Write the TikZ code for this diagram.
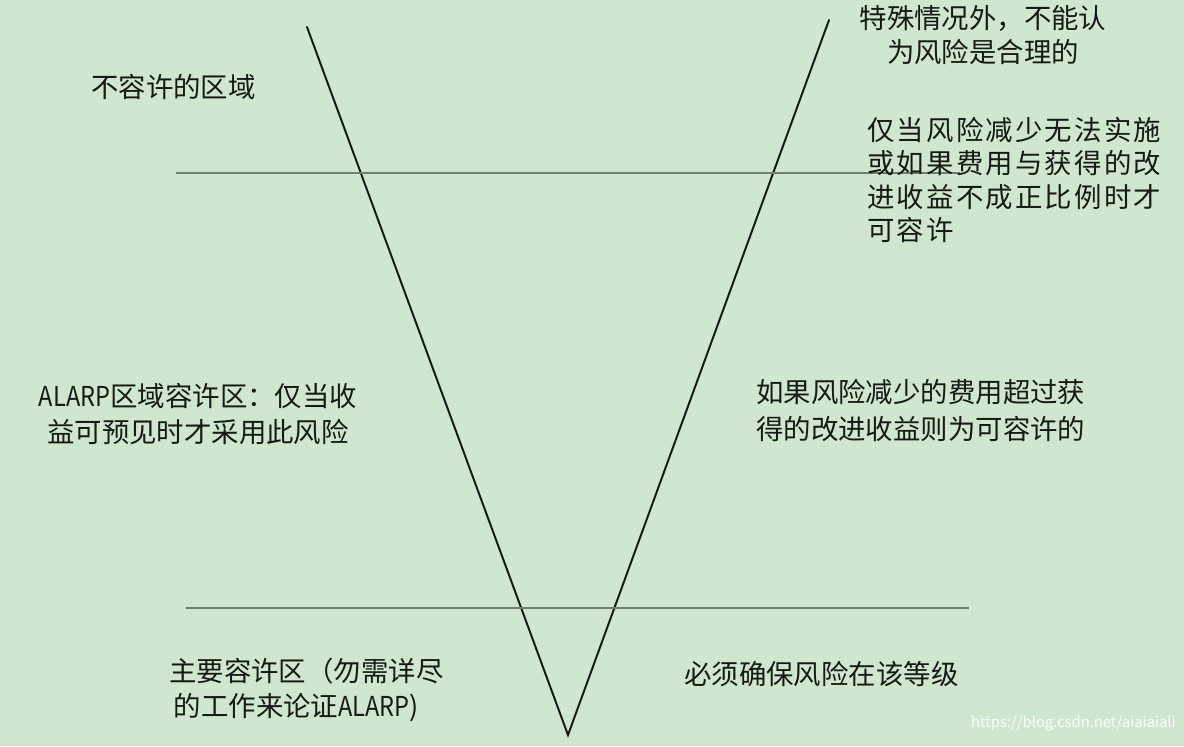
\documentclass[tikz,border=0pt]{standalone}
\usepackage{fontspec}
\setmainfont{Noto Sans CJK SC}
\newfontfamily\cjkwide[LetterSpace=8]{Noto Sans CJK SC}
\newfontfamily\latnarrow[FakeStretch=0.86]{Noto Sans CJK SC}
\definecolor{bggreen}{RGB}{207,231,206}
\definecolor{rulegray}{RGB}{112,128,112}
\definecolor{inkblack}{RGB}{22,26,22}
\usetikzlibrary{positioning}

\begin{document}
\begin{tikzpicture}[x=0.025cm,y=-0.025cm,
      lbl/.style={inner sep=0pt,font=\fontsize{19.5}{24}\selectfont,text=inkblack,
                  align=left},
      vline/.style={draw=inkblack,line width=1.4pt,line cap=round},
      zone/.style={draw=rulegray,line width=0.8pt}]
  \fill[bggreen] (0,0) rectangle (1184,746);
  \useasboundingbox (0,0) rectangle (1184,746);
  % the V
  \coordinate (vl) at (307,27);
  \coordinate (vr) at (829,20);
  \coordinate (tip) at (568,735);
  \draw[vline] (vl) -- (tip) -- (vr);
  % zone borders
  \coordinate (hi-w) at (176,173);
  \coordinate (hi-e) at (960,173);
  \coordinate (lo-w) at (186,608);
  \coordinate (lo-e) at (969,608);
  \draw[zone] (hi-w) -- (hi-e);
  \draw[zone] (lo-w) -- (lo-e);
  % texts
  \node[lbl,align=center] (excp) at (983,35) {特殊情况外，不能认\\为风险是合理的};
  \node[lbl,anchor=west] (intol) at (91,87) {不容许的区域};
  \node[lbl,anchor=west,font=\fontsize{19.5}{23.8}\cjkwide] (only) at (867,180)
    {仅当风险减少无法实施\\或如果费用与获得的改\\进收益不成正比例时才\\可容许};
  \node[lbl,align=center,font=\fontsize{19.5}{25}\selectfont] (alarp) at (198,414)
    {{\latnarrow ALARP}区域容许区：仅当收\\益可预见时才采用此风险};
  \node[lbl,anchor=west,font=\fontsize{19.5}{26.3}\selectfont] (cost) at (756,411)
    {如果风险减少的费用超过获\\得的改进收益则为可容许的};
  \node[lbl,anchor=west,font=\fontsize{19.5}{25}\selectfont] (broad) at (169,690)
    {主要容许区（勿需详尽\\\,的工作来论证{\latnarrow ALARP})};
  \node[lbl,anchor=west] (must) at (684,674) {必须确保风险在该等级};
  \node[inner sep=0pt,anchor=east,font=\fontsize{10.5}{12}\selectfont,text=white!92!bggreen]
    (mark) at (1176,723) {https://blog.csdn.net/aiaiaiali};
\end{tikzpicture}
\end{document}
